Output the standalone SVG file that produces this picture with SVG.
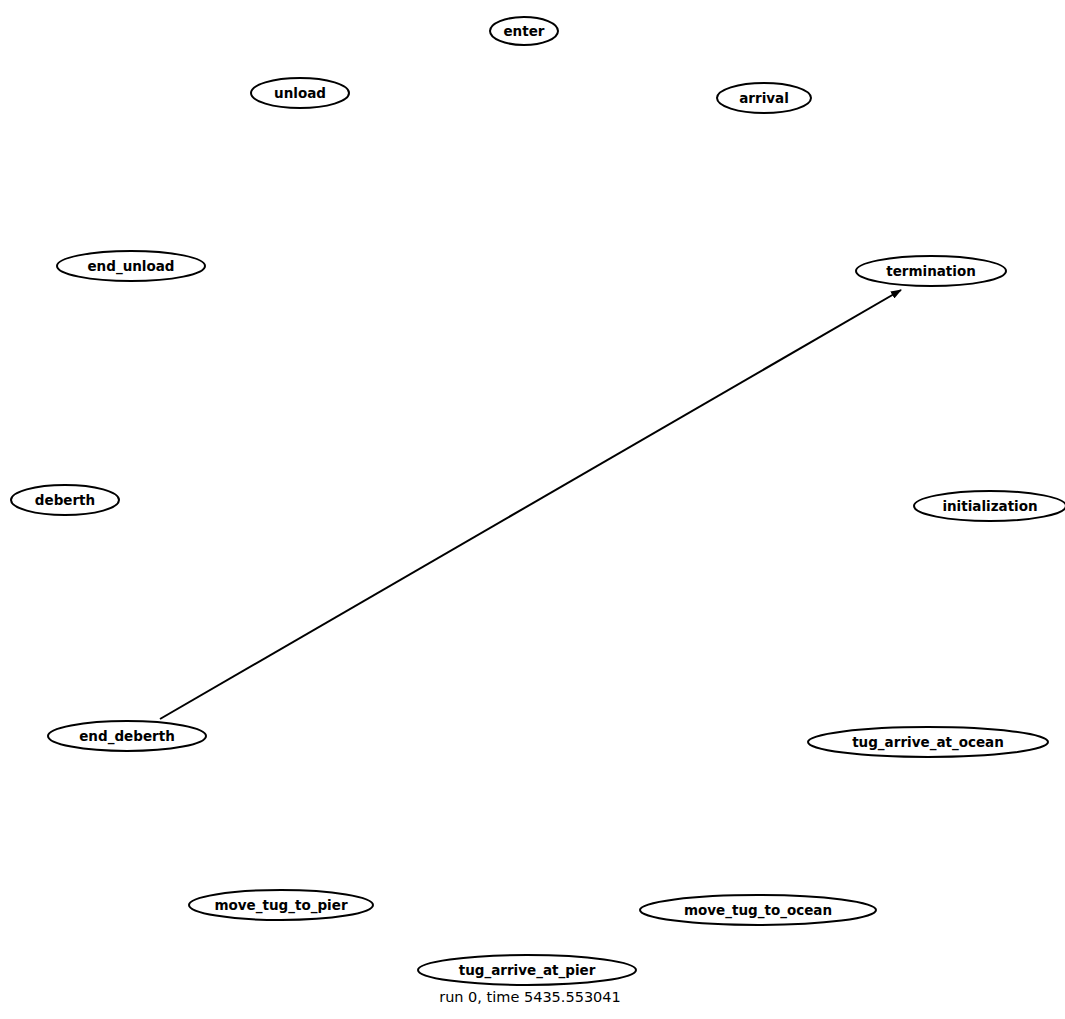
<svg xmlns="http://www.w3.org/2000/svg" width="1065" height="1019" viewBox="0 0 1065 1019">
<style>
.n ellipse{fill:none;stroke:#000;stroke-width:2}
.n text,.cap{font-family:"DejaVu Sans",sans-serif;font-size:13.5px;font-weight:bold;text-anchor:middle;dominant-baseline:central;fill:#000}
.cap{font-size:14.5px;font-weight:normal}
.e{stroke:#000;stroke-width:2;fill:none}
</style>
<defs><marker id="ah" markerWidth="11" markerHeight="8" refX="10" refY="4" orient="auto" markerUnits="userSpaceOnUse"><path d="M0,0 L11,4 L0,8 z" fill="#000"/></marker></defs>
<rect width="1065" height="1019" fill="#fff"/>
<g id="connectors"><line class="e" x1="160" y1="719" x2="901" y2="290" marker-end="url(#ah)"/></g>
<g id="enter" class="n"><ellipse cx="524" cy="31" rx="34" ry="14"/><text x="524" y="31">enter</text></g>
<g id="unload" class="n"><ellipse cx="300" cy="93" rx="49" ry="15"/><text x="300" y="93">unload</text></g>
<g id="arrival" class="n"><ellipse cx="764" cy="98" rx="47" ry="15"/><text x="764" y="98">arrival</text></g>
<g id="end_unload" class="n"><ellipse cx="131" cy="266" rx="74" ry="15"/><text x="131" y="266">end_unload</text></g>
<g id="termination" class="n"><ellipse cx="931" cy="271" rx="75" ry="15"/><text x="931" y="271">termination</text></g>
<g id="deberth" class="n"><ellipse cx="65" cy="500" rx="54" ry="15"/><text x="65" y="500">deberth</text></g>
<g id="initialization" class="n"><ellipse cx="990" cy="506" rx="76" ry="15"/><text x="990" y="506">initialization</text></g>
<g id="end_deberth" class="n"><ellipse cx="127" cy="736" rx="79" ry="15"/><text x="127" y="736">end_deberth</text></g>
<g id="tug_arrive_at_ocean" class="n"><ellipse cx="928" cy="742" rx="120" ry="15"/><text x="928" y="742">tug_arrive_at_ocean</text></g>
<g id="move_tug_to_pier" class="n"><ellipse cx="281" cy="905" rx="92" ry="15"/><text x="281" y="905">move_tug_to_pier</text></g>
<g id="move_tug_to_ocean" class="n"><ellipse cx="758" cy="910" rx="118" ry="15"/><text x="758" y="910">move_tug_to_ocean</text></g>
<g id="tug_arrive_at_pier" class="n"><ellipse cx="527" cy="970" rx="109" ry="15"/><text x="527" y="970">tug_arrive_at_pier</text></g>
<text class="cap" x="530" y="997">run 0, time 5435.553041</text>
</svg>
